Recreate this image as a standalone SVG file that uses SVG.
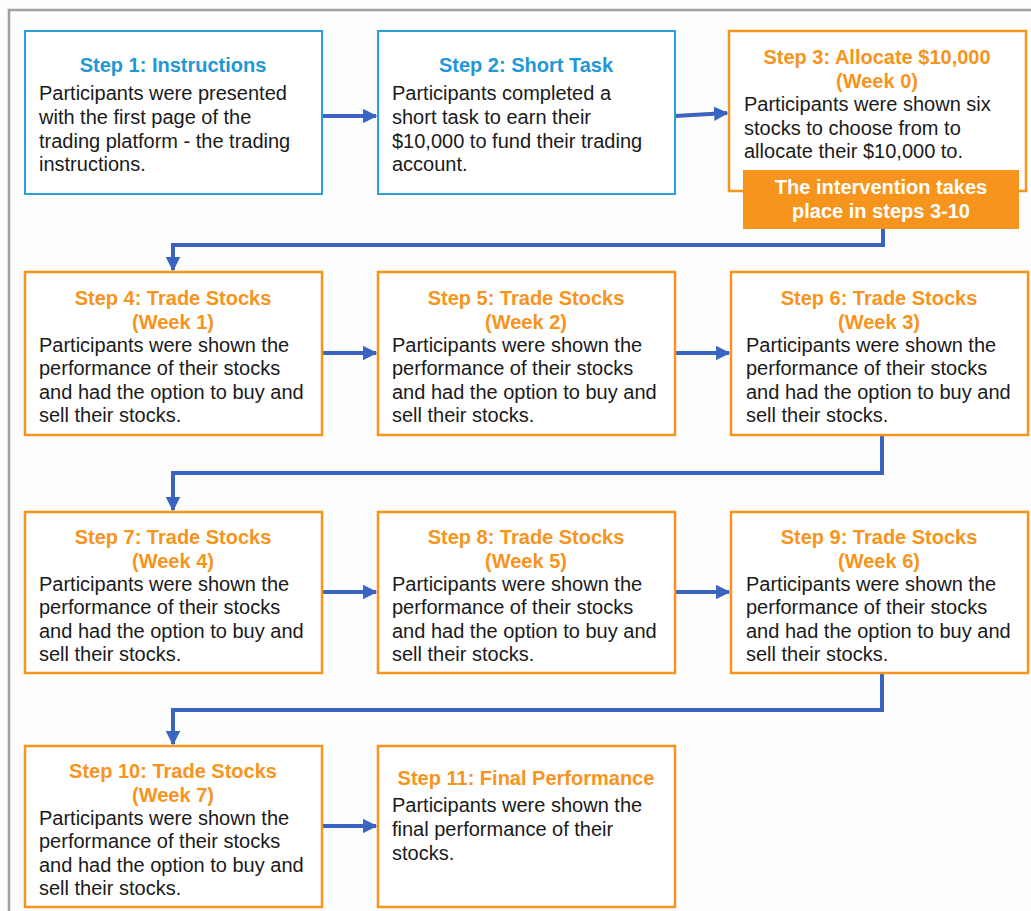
<svg xmlns="http://www.w3.org/2000/svg" width="1031" height="911" viewBox="0 0 1031 911">
<defs>
<style>
.bg{fill:#fdfdfd}
.frame{fill:none;stroke:#a0a0a0;stroke-width:2.5}
.bbox{fill:#ffffff;stroke:#2b9fd8;stroke-width:2}
.obox{fill:#ffffff;stroke:#f7941d;stroke-width:2.5}
.hb{font-family:"Liberation Sans",Arial,sans-serif;font-weight:bold;font-size:20px;fill:#1f98d6;text-anchor:middle}
.ho{font-family:"Liberation Sans",Arial,sans-serif;font-weight:bold;font-size:20px;fill:#f7941d;text-anchor:middle}
.body{font-family:"Liberation Sans",Arial,sans-serif;font-size:20px;fill:#1a1a1a}
.tag{fill:#f7941d}
.tagt{font-family:"Liberation Sans",Arial,sans-serif;font-weight:bold;font-size:20px;fill:#ffffff;text-anchor:middle}
.conn{fill:none;stroke:#3a64c2;stroke-width:4}
</style>
<marker id="ah" viewBox="0 0 10 10" refX="9" refY="5" markerWidth="3.6" markerHeight="3.6" orient="auto" markerUnits="strokeWidth">
<path d="M0,0 L10,5 L0,10 z" fill="#3a64c2"/>
</marker>
</defs>
<rect class="bg" x="0" y="0" width="1031" height="911"/>
<rect class="frame" x="9" y="10" width="1040" height="920"/>

<g id="connectors">
<path class="conn" d="M322,116 L376,116" marker-end="url(#ah)"/>
<path class="conn" d="M675,116 L727,113" marker-end="url(#ah)"/>
<path class="conn" d="M883,229 L883,245 L173,245 L173,270" marker-end="url(#ah)"/>
<path class="conn" d="M322,353 L376,353" marker-end="url(#ah)"/>
<path class="conn" d="M675,353 L729,353" marker-end="url(#ah)"/>
<path class="conn" d="M882,435 L882,473 L173,473 L173,510" marker-end="url(#ah)"/>
<path class="conn" d="M322,592 L376,592" marker-end="url(#ah)"/>
<path class="conn" d="M675,592 L729,592" marker-end="url(#ah)"/>
<path class="conn" d="M882,673 L882,710 L173,710 L173,744" marker-end="url(#ah)"/>
<path class="conn" d="M322,826 L376,826" marker-end="url(#ah)"/>
</g>

<g id="step1">
<rect class="bbox" x="25" y="31" width="297" height="163"/>
<text class="hb" x="173" y="72">Step 1: Instructions</text>
<text class="body" x="39" y="100">Participants were presented</text>
<text class="body" x="39" y="124">with the first page of the</text>
<text class="body" x="39" y="148">trading platform - the trading</text>
<text class="body" x="39" y="171">instructions.</text>
</g>

<g id="step2">
<rect class="bbox" x="378" y="31" width="297" height="163"/>
<text class="hb" x="526" y="72">Step 2: Short Task</text>
<text class="body" x="392" y="100">Participants completed a</text>
<text class="body" x="392" y="124">short task to earn their</text>
<text class="body" x="392" y="148">$10,000 to fund their trading</text>
<text class="body" x="392" y="171">account.</text>
</g>

<g id="step3">
<rect class="obox" x="729" y="31" width="297" height="160"/>
<text class="ho" x="877" y="64">Step 3: Allocate $10,000</text>
<text class="ho" x="877" y="88">(Week 0)</text>
<text class="body" x="744" y="111">Participants were shown six</text>
<text class="body" x="744" y="135">stocks to choose from to</text>
<text class="body" x="744" y="158">allocate their $10,000 to.</text>
</g>

<g id="intervention">
<rect class="tag" x="743" y="170" width="276" height="59"/>
<text class="tagt" x="881" y="194">The intervention takes</text>
<text class="tagt" x="881" y="218">place in steps 3-10</text>
</g>

<g id="step4">
<rect class="obox" x="25" y="272" width="297" height="163"/>
<text class="ho" x="173" y="305">Step 4: Trade Stocks</text>
<text class="ho" x="173" y="329">(Week 1)</text>
<text class="body" x="39" y="352">Participants were shown the</text>
<text class="body" x="39" y="375">performance of their stocks</text>
<text class="body" x="39" y="399">and had the option to buy and</text>
<text class="body" x="39" y="422">sell their stocks.</text>
</g>

<g id="step5">
<rect class="obox" x="378" y="272" width="297" height="163"/>
<text class="ho" x="526" y="305">Step 5: Trade Stocks</text>
<text class="ho" x="526" y="329">(Week 2)</text>
<text class="body" x="392" y="352">Participants were shown the</text>
<text class="body" x="392" y="375">performance of their stocks</text>
<text class="body" x="392" y="399">and had the option to buy and</text>
<text class="body" x="392" y="422">sell their stocks.</text>
</g>

<g id="step6">
<rect class="obox" x="731" y="272" width="297" height="163"/>
<text class="ho" x="879" y="305">Step 6: Trade Stocks</text>
<text class="ho" x="879" y="329">(Week 3)</text>
<text class="body" x="746" y="352">Participants were shown the</text>
<text class="body" x="746" y="375">performance of their stocks</text>
<text class="body" x="746" y="399">and had the option to buy and</text>
<text class="body" x="746" y="422">sell their stocks.</text>
</g>

<g id="step7">
<rect class="obox" x="25" y="512" width="297" height="161"/>
<text class="ho" x="173" y="544">Step 7: Trade Stocks</text>
<text class="ho" x="173" y="568">(Week 4)</text>
<text class="body" x="39" y="591">Participants were shown the</text>
<text class="body" x="39" y="614">performance of their stocks</text>
<text class="body" x="39" y="638">and had the option to buy and</text>
<text class="body" x="39" y="661">sell their stocks.</text>
</g>

<g id="step8">
<rect class="obox" x="378" y="512" width="297" height="161"/>
<text class="ho" x="526" y="544">Step 8: Trade Stocks</text>
<text class="ho" x="526" y="568">(Week 5)</text>
<text class="body" x="392" y="591">Participants were shown the</text>
<text class="body" x="392" y="614">performance of their stocks</text>
<text class="body" x="392" y="638">and had the option to buy and</text>
<text class="body" x="392" y="661">sell their stocks.</text>
</g>

<g id="step9">
<rect class="obox" x="731" y="512" width="297" height="161"/>
<text class="ho" x="879" y="544">Step 9: Trade Stocks</text>
<text class="ho" x="879" y="568">(Week 6)</text>
<text class="body" x="746" y="591">Participants were shown the</text>
<text class="body" x="746" y="614">performance of their stocks</text>
<text class="body" x="746" y="638">and had the option to buy and</text>
<text class="body" x="746" y="661">sell their stocks.</text>
</g>

<g id="step10">
<rect class="obox" x="25" y="746" width="297" height="161"/>
<text class="ho" x="173" y="778">Step 10: Trade Stocks</text>
<text class="ho" x="173" y="802">(Week 7)</text>
<text class="body" x="39" y="825">Participants were shown the</text>
<text class="body" x="39" y="848">performance of their stocks</text>
<text class="body" x="39" y="872">and had the option to buy and</text>
<text class="body" x="39" y="895">sell their stocks.</text>
</g>

<g id="step11">
<rect class="obox" x="378" y="746" width="297" height="161"/>
<text class="ho" x="526" y="785">Step 11: Final Performance</text>
<text class="body" x="392" y="812">Participants were shown the</text>
<text class="body" x="392" y="836">final performance of their</text>
<text class="body" x="392" y="860">stocks.</text>
</g>
</svg>
